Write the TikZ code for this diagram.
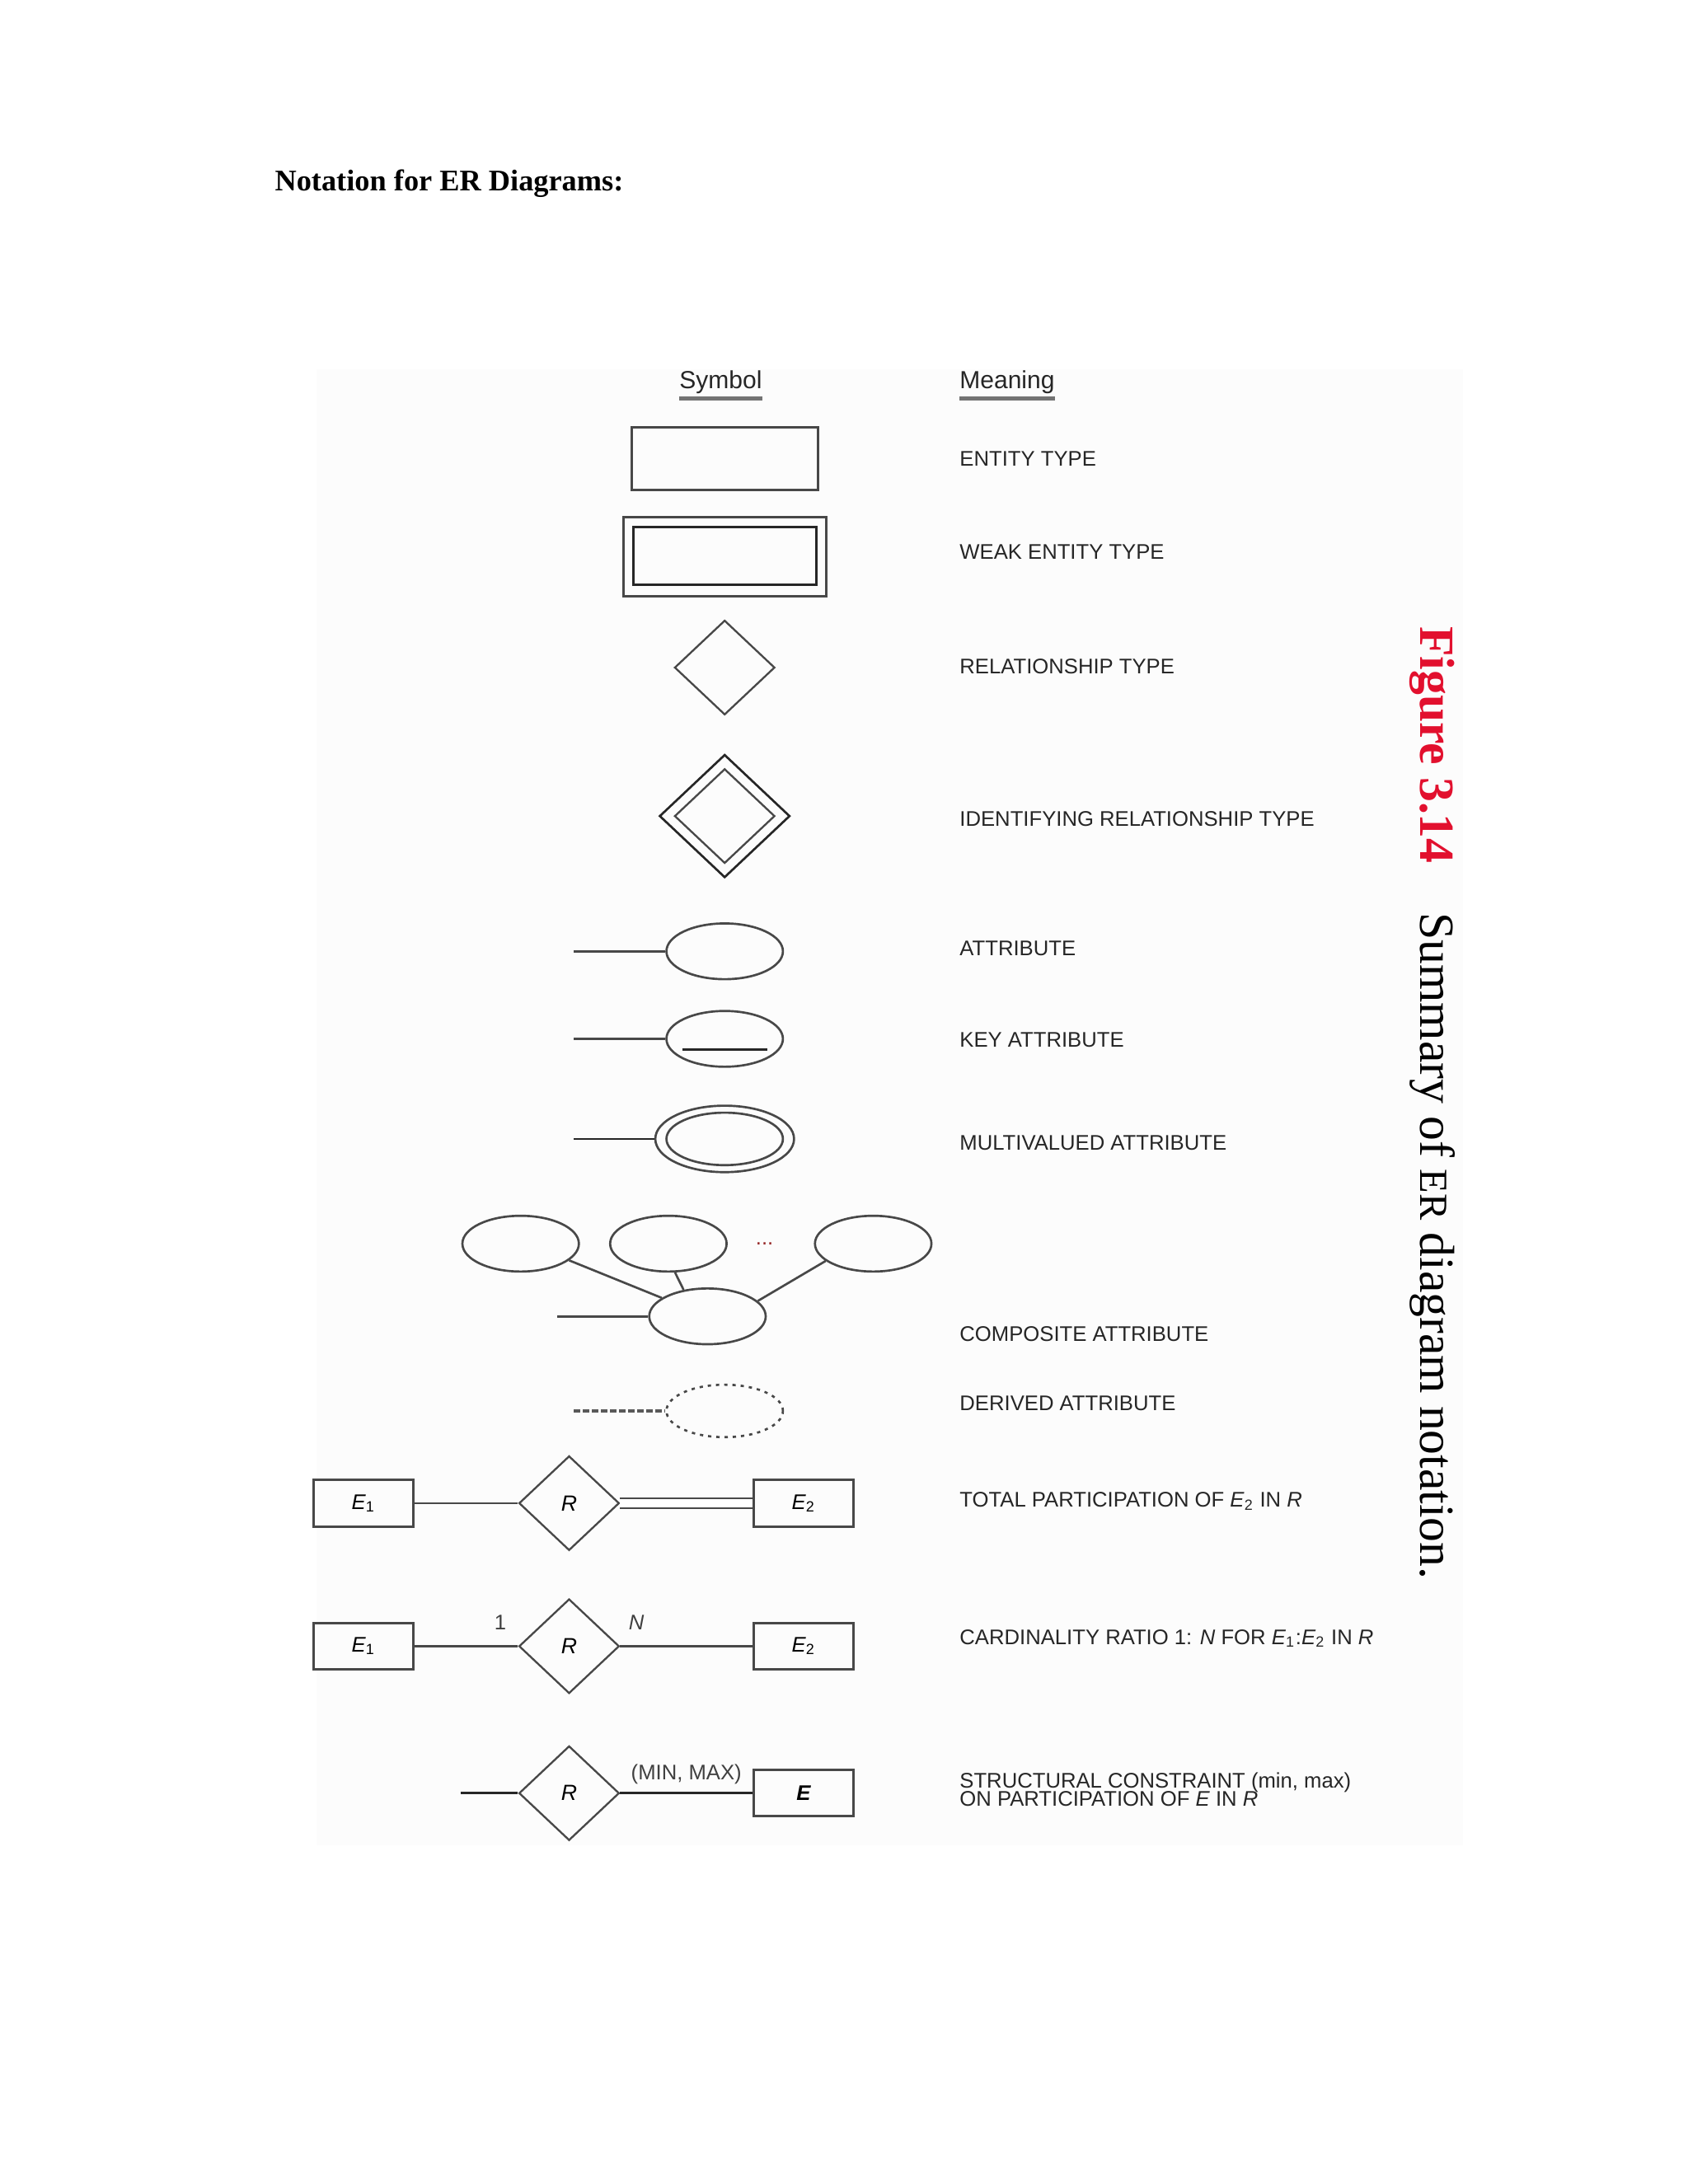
\documentclass[tikz,border=0pt]{standalone}
\usepackage{fontspec}
\setmainfont{Liberation Sans}
\newfontfamily\serifface{Liberation Serif}
\usepackage{tikz}
\usetikzlibrary{shapes}
\definecolor{figred}{RGB}{226,16,46}
\definecolor{ink}{RGB}{72,72,72}
\newcommand{\Ename}[1]{\textit{E}\textsubscript{#1}}
\tikzstyle{ent}=[rectangle, draw=ink, line width=0.9pt, inner sep=0pt, minimum width=67.8pt, minimum height=22.7pt]
\tikzstyle{sent}=[rectangle, draw=ink, line width=0.9pt, inner sep=0pt, minimum width=36.5pt, minimum height=16.9pt, font=\fontsize{7.7}{8}\selectfont]
\tikzstyle{rel}=[diamond, draw=ink, line width=0.7pt, inner sep=0pt, minimum width=36.5pt, minimum height=34.4pt, font=\fontsize{8}{8}\selectfont\itshape]
\tikzstyle{attr}=[ellipse, draw=ink, line width=0.8pt, inner sep=0pt, minimum width=42.4pt, minimum height=20.3pt]
\tikzstyle{link}=[draw=ink, line width=0.8pt]
\tikzstyle{head}=[inner sep=0pt, font=\fontsize{9}{10}\selectfont, text=black!85]
\tikzstyle{meaning}=[anchor=base west, inner sep=0pt, font=\fontsize{7.7}{8}\selectfont, text=black!85]
\tikzstyle{tag}=[inner sep=0pt, font=\fontsize{7.7}{8}\selectfont, text=black!75]

\begin{document}
\begin{tikzpicture}
\useasboundingbox (0,0) rectangle (21.59,-27.94);
\fill[black!1] (4.05,-4.72) rectangle (18.71,-23.61);
\node[anchor=base west, inner sep=0pt, font=\serifface\bfseries\fontsize{10.9}{13}\selectfont] (title) at (3.51,-2.44) {Notation for ER Diagrams:};

% headings
\node[head, anchor=base] (symbol) at (9.22,-4.97) {Symbol};
\node[head, anchor=base west] (meaning) at (12.27,-4.97) {Meaning};
\draw[black!55, line width=1.3pt] ([yshift=-3.6pt]symbol.base west) -- ([yshift=-3.6pt]symbol.base east);
\draw[black!55, line width=1.3pt] ([yshift=-3.6pt]meaning.base west) -- ([yshift=-3.6pt]meaning.base east);

% entity types
\node[ent] (entity) at (9.27,-5.87) {};
\node[meaning] (entlbl) at (12.27,-5.96) {ENTITY TYPE};
\node[ent, minimum width=73.8pt, minimum height=28.7pt] (weak) at (9.27,-7.12) {};
\node[ent, draw=black!85, minimum width=66.6pt, minimum height=21.2pt] (weakin) at (9.27,-7.11) {};
\node[meaning] (weaklbl) at (12.27,-7.15) {WEAK ENTITY TYPE};

% relationships
\node[rel] (relship) at (9.27,-8.54) {};
\node[meaning] (rellbl) at (12.27,-8.62) {RELATIONSHIP TYPE};
\node[rel, draw=black!85, line width=0.8pt, minimum width=47.5pt, minimum height=44.8pt] (ident) at (9.27,-10.44) {};
\node[rel] (identin) at (9.27,-10.44) {};
\node[meaning] (identlbl) at (12.27,-10.57) {IDENTIFYING RELATIONSHIP TYPE};

% attributes
\coordinate (attend) at (7.34,-12.17);
\node[attr] (att) at (9.27,-12.17) {};
\draw[link] (attend) -- (att.west);
\node[meaning] (attlbl) at (12.27,-12.23) {ATTRIBUTE};

\coordinate (keyend) at (7.34,-13.29);
\node[attr] (key) at (9.27,-13.29) {};
\draw[link] (keyend) -- (key.west);
\draw[black!85, line width=0.9pt] ([xshift=-15.5pt, yshift=-3.9pt]key.center) -- ([xshift=15.5pt, yshift=-3.9pt]key.center);
\node[meaning] (keylbl) at (12.27,-13.40) {KEY ATTRIBUTE};

\coordinate (mvend) at (7.34,-14.57);
\node[attr, minimum width=50.5pt, minimum height=24.2pt] (multi) at (9.27,-14.57) {};
\node[attr, minimum height=19.1pt] (multiin) at (9.27,-14.57) {};
\draw[link, draw=black!85] (mvend) -- (multi.west);
\node[meaning] (multilbl) at (12.27,-14.71) {MULTIVALUED ATTRIBUTE};

% composite
\node[attr] (compl) at (6.66,-15.91) {};
\node[attr] (compm) at (8.55,-15.91) {};
\node[attr] (compr) at (11.17,-15.91) {};
\node[attr] (comp) at (9.05,-16.84) {};
\node[inner sep=0pt, font=\fontsize{7.7}{8}\selectfont, text={rgb,255:red,150;green,40;blue,40}] (dots) at (9.78,-15.91) {...};
\draw[link] (compl.-19) -- (comp.158);
\draw[link] (compm.-77) -- (comp.132);
\draw[link] (compr.-160) -- (comp.17);
\coordinate (compend) at (7.13,-16.84);
\draw[link] (compend) -- (comp.west);
\node[meaning] (complbl) at (12.27,-17.16) {COMPOSITE ATTRIBUTE};

% derived
\coordinate (derend) at (7.34,-18.05);
\node[attr, minimum height=19.1pt, dash pattern=on 1.2pt off 1.8pt] (derived) at (9.27,-18.05) {};
\draw[draw=black!65, line width=1.3pt, dash pattern=on 2.4pt off 0.9pt] (derend) -- (derived.west);
\node[meaning] (derlbl) at (12.27,-18.05) {DERIVED ATTRIBUTE};

% total participation
\node[sent] (eonea) at (4.65,-19.23) {\Ename{1}};
\node[rel] (rela) at (7.28,-19.23) {R};
\node[sent] (etwoa) at (10.28,-19.23) {\Ename{2}};
\draw[link] (eonea) -- (rela);
\draw[link, double, double distance=2.8pt] (rela.east) -- (etwoa.west);
\node[meaning] (totlbl) at (12.27,-19.28) {TOTAL PARTICIPATION OF \Ename{2} IN \textit{R}};

% cardinality
\node[sent] (eoneb) at (4.65,-21.06) {\Ename{1}};
\node[rel] (relb) at (7.28,-21.06) {R};
\node[sent] (etwob) at (10.28,-21.06) {\Ename{2}};
\draw[link] (eoneb) -- (relb);
\draw[link] (relb) -- (etwob);
\node[tag] (one) at (6.40,-20.76) {1};
\node[tag, font=\fontsize{7.7}{8}\selectfont\itshape] (many) at (8.14,-20.76) {N};
\node[meaning] (cardlbl) at (12.27,-21.04) {CARDINALITY RATIO 1: \textit{N} FOR \Ename{1}:\Ename{2} IN \textit{R}};

% structural constraint
\coordinate (relcend) at (5.89,-22.94);
\node[rel] (relc) at (7.28,-22.94) {R};
\node[sent, font=\fontsize{7.7}{8}\selectfont\itshape\bfseries] (ec) at (10.28,-22.94) {E};
\draw[link, draw=black!85] (relcend) -- (relc);
\draw[link, draw=black!85] (relc) -- (ec);
\node[tag] (minmax) at (8.78,-22.70) {(MIN, MAX)};
\node[meaning] (strlbl) at (12.27,-22.87) {STRUCTURAL CONSTRAINT (min, max)};
\node[meaning] (strlbltwo) at (12.27,-23.11) {ON PARTICIPATION OF \textit{E} IN \textit{R}};

% caption
\node[rotate=-90, anchor=base west, inner sep=0pt, font=\serifface\fontsize{17.9}{20}\selectfont] (caption) at (18.17,-8.01) {\textcolor{figred}{\bfseries Figure 3.14}\quad Summary of {\fontsize{14.5}{16}\selectfont ER} diagram notation.};
\end{tikzpicture}
\end{document}
